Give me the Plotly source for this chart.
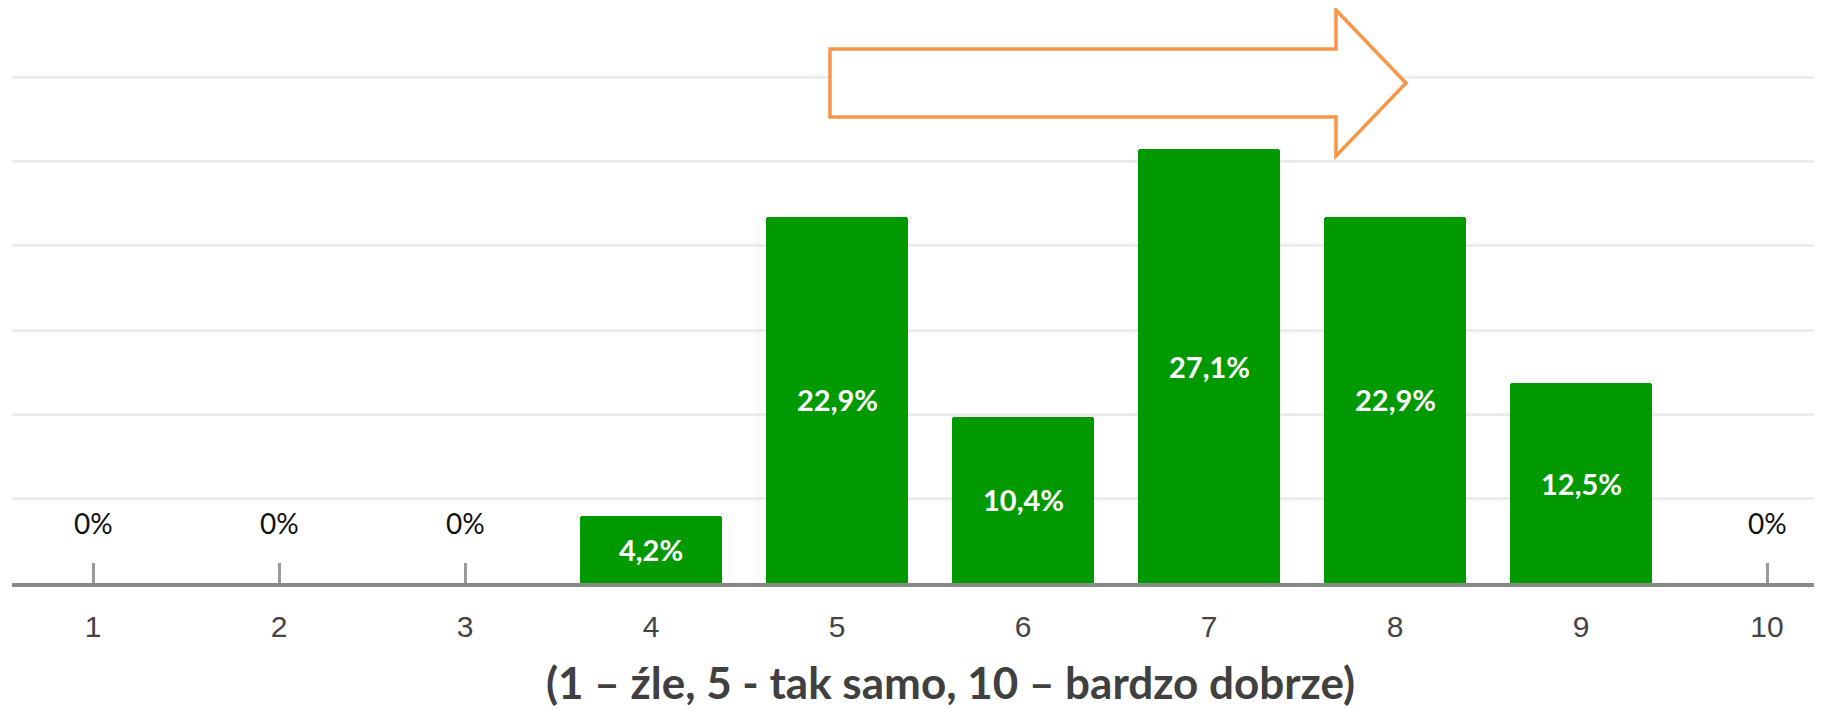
import plotly.graph_objects as go

# ---- data ----
categories = [1, 2, 3, 4, 5, 6, 7, 8, 9, 10]
percent = [0, 0, 0, 4.2, 22.9, 10.4, 27.1, 22.9, 12.5, 0]
tick_labels = ["1", "2", "3", "4", "5", "6", "7", "8", "9", "10"]
axis_title = "(1 – źle, 5 - tak samo, 10 – bardzo dobrze)"

# page body has an 8px default margin; compensate so the figure fills the window
OFF = 8
W, H = 1822 - OFF, 710 - OFF
ML, MR, MT, MB = 12 - OFF, 0, 0, 127
PW, PH = W - ML - MR, H - MT - MB

def px(xp):
    return (xp - OFF - ML) / PW

def py(yp):
    return (H - MB - (yp - OFF)) / PH

BAR_GREEN = "#009900"
ORANGE = "#F79646"

fig = go.Figure()
fig.add_trace(go.Bar(
    x=categories, y=percent, width=0.76,
    marker=dict(color=BAR_GREEN, line=dict(width=0), cornerradius=3),
    hoverinfo="skip",
))

def fmt(v):
    s = ("%g" % v).replace(".", ",")
    return s + "%"

annotations = []
for c, v in zip(categories, percent):
    if v > 0:
        annotations.append(dict(
            x=c, y=v / 2, xref="x", yref="y", text=fmt(v), showarrow=False,
            font=dict(family="Lato", size=29, color="white", weight="bold"),
            xanchor="center", yanchor="middle",
        ))
    else:
        annotations.append(dict(
            x=c, y=0, xref="x", yref="y", text=fmt(v), showarrow=False,
            font=dict(family="Lato", size=28, color="#111111"),
            xanchor="center", yanchor="middle", yshift=60,
        ))

annotations.append(dict(
    x=px(950), y=0, xref="paper", yref="paper", yshift=-MB,
    text="<b>" + axis_title + "</b>",
    showarrow=False, xanchor="center", yanchor="bottom",
    font=dict(family="Lato", size=44, color="#404040"),
))

# decorative arrow (annotation shape)
pts = [(830, 49), (1336, 49), (1336, 10), (1406, 83), (1336, 156), (1336, 117), (830, 117)]
path = "M " + " L ".join("%.5f,%.5f" % (px(a), py(b)) for a, b in pts) + " Z"

fig.update_layout(
    width=W, height=H,
    margin=dict(l=ML, r=MR, t=MT, b=MB),
    paper_bgcolor="white", plot_bgcolor="white",
    showlegend=False,
    bargap=0,
    annotations=annotations,
    shapes=[dict(type="path", path=path, xref="paper", yref="paper",
                 line=dict(color=ORANGE, width=3.5), fillcolor="white", layer="above")],
    xaxis=dict(
        range=[1 - 81 / 186, 1 - 81 / 186 + PW / 186],
        tickmode="array", tickvals=categories, ticktext=tick_labels,
        ticks="inside", ticklen=20, tickwidth=2.5, tickcolor="#9a9a9a",
        showline=True, linecolor="#878c86", linewidth=4,
        showgrid=False, zeroline=False, layer="below traces",
        tickfont=dict(family="Liberation Sans", size=30, color="#444444"),
        ticklabelstandoff=14,
    ),
    yaxis=dict(
        range=[0, PH / 16.0], dtick=5.27, tick0=0,
        showgrid=True, gridcolor="#ececec", gridwidth=3,
        showticklabels=False, zeroline=False, showline=False, ticks="",
    ),
)

fig.write_html("out.html")
